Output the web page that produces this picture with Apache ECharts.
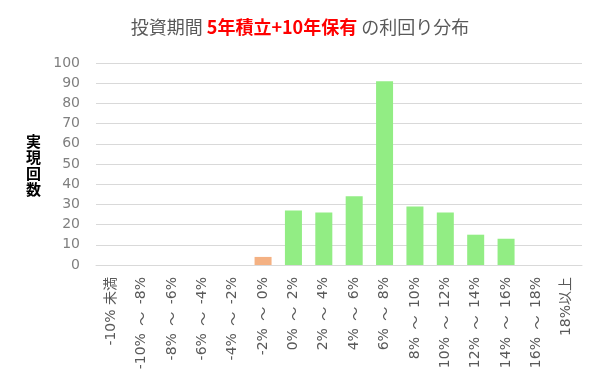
<!DOCTYPE html>
<html><head><meta charset="utf-8">
<script src="https://cdn.jsdelivr.net/npm/echarts@6/dist/echarts.min.js"></script>
<style>html,body{margin:0;padding:0;background:#fff}#c{width:600px;height:383px}</style>
</head><body><div id="c"></div>
<script>
const categories = ["-10% 未満","-10% ～ -8%","-8% ～ -6%","-6% ～ -4%","-4% ～ -2%","-2% ～ 0%","0% ～ 2%","2% ～ 4%","4% ～ 6%","6% ～ 8%","8% ～ 10%","10% ～ 12%","12% ～ 14%","14% ～ 16%","16% ～ 18%","18%以上"];
const counts = [0,0,0,0,0,4,27,26,34,91,29,26,15,13,0,0];
const negativeBins = 6; // first 6 categories are negative returns
const yTicks = {min:0,max:100,interval:10};
const titleParts = ["投資期間 ","5年積立+10年保有"," の利回り分布"];
const yName = "実現回数";

const chart = echarts.init(document.getElementById('c'));
const cjk = '"Noto Sans CJK JP","Noto Sans",sans-serif';
const lat = '"DejaVu Sans","Noto Sans CJK JP",sans-serif';
chart.setOption({
  animation:false,
  textStyle:{fontFamily:cjk},
  title:{
    left:'center', top:13,
    text:'{a|'+titleParts[0]+'}{b|'+titleParts[1]+'}{a|'+titleParts[2]+'}',
    textStyle:{rich:{
      a:{fontSize:18,color:'#595959',fontWeight:'normal',fontFamily:cjk},
      b:{fontSize:18,color:'#ff0000',fontWeight:'bold',fontFamily:cjk}
    }}
  },
  grid:{left:96,right:18,top:63,bottom:118},
  xAxis:{
    type:'category', data:categories,
    axisLine:{lineStyle:{color:'#d9d9d9',width:1}},
    axisTick:{show:false},
    axisLabel:{rotate:90,interval:0,fontSize:14,color:'#595959',margin:12,fontFamily:lat,
      formatter:v=>v.replace(' ～ ',' {t|～} '),
      rich:{t:{fontSize:14,color:'#595959',fontFamily:cjk,padding:[0,3]}}
    }
  },
  yAxis:{
    type:'value', min:yTicks.min, max:yTicks.max, interval:yTicks.interval,
    axisLine:{show:false}, axisTick:{show:false},
    splitLine:{lineStyle:{color:'#d9d9d9',width:1}},
    axisLabel:{fontSize:14,color:'#7f7f7f',margin:16,fontFamily:lat}
  },
  graphic:[{
    type:'text', left:26, top:133,
    style:{text:yName.split('').join('\n'),lineHeight:16,font:'bold 15px '+cjk,fill:'#000'}
  }],
  series:[{
    type:'bar', barCategoryGap:'44%',
    data:counts.map((v,i)=>({value:v,itemStyle:{color:i<negativeBins?'#f4b183':'#92ed84'}}))
  }]
});
</script></body></html>
